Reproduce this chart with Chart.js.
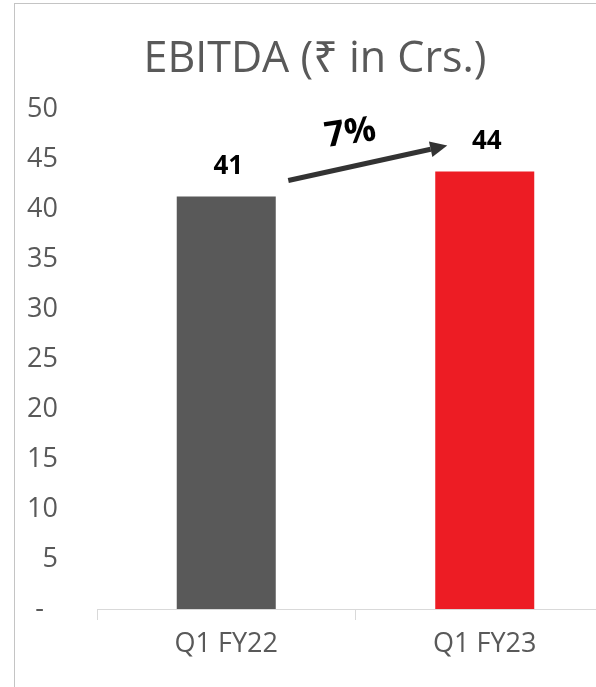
<!DOCTYPE html>
<html>
<head>
<meta charset="utf-8">
<script src="https://cdn.jsdelivr.net/npm/chart.js@4.4.0/dist/chart.umd.min.js"></script>
<style>
  html, body { margin: 0; padding: 0; background: #ffffff; overflow: hidden; width: 596px; height: 687px; }
  #frame { position: absolute; left: 14px; top: 3px; width: 800px; height: 800px; border: 1.5px solid #c4c4c4; box-sizing: border-box; }
  #wrap { position: absolute; left: 0; top: 0; width: 640px; height: 687px; }
</style>
</head>
<body>
<div id="frame"></div>
<div id="wrap"><canvas id="c" width="640" height="687"></canvas></div>
<script>
const categories = ['Q1 FY22', 'Q1 FY23'];
const ebitdaValues = [41.3, 43.8];
const valueLabels = ['41', '44'];
const barColors = ['#595959', '#ED1C24'];
const growthLabel = '7%';
const titleText = 'EBITDA (₹ in Crs.)';

const FONT = "'Open Sans', 'Noto Sans', 'DejaVu Sans', sans-serif";
const TEXT = '#595959';

// arrow annotation, in data coordinates (category index, value)
const arrowSpec = { from: [0.24, 42.9], to: [0.855, 46.4], label: [0.48, 47.6] };

const barLabelPlugin = {
  id: 'barLabels',
  afterDatasetsDraw(chart) {
    const ctx = chart.ctx;
    const meta = chart.getDatasetMeta(0);
    ctx.save();
    ctx.fillStyle = '#000000';
    ctx.font = "bold 26px " + FONT;
    ctx.textAlign = 'center';
    ctx.textBaseline = 'middle';
    meta.data.forEach((bar, i) => {
      ctx.fillText(valueLabels[i], bar.x + 2, bar.y - 30);
    });
    ctx.restore();
  }
};

const arrowPlugin = {
  id: 'growthArrow',
  afterDatasetsDraw(chart) {
    const xs = chart.scales.x, ys = chart.scales.y;
    const px = (v) => {
      const a = xs.getPixelForValue(0), b = xs.getPixelForValue(1);
      return a + (b - a) * v;
    };
    const x1 = px(arrowSpec.from[0]), y1 = ys.getPixelForValue(arrowSpec.from[1]);
    const x2 = px(arrowSpec.to[0]), y2 = ys.getPixelForValue(arrowSpec.to[1]);
    const ctx = chart.ctx;
    const ang = Math.atan2(y2 - y1, x2 - x1);
    const headLen = 17, headW = 8;
    const bx = x2 - headLen * Math.cos(ang), by = y2 - headLen * Math.sin(ang);
    ctx.save();
    ctx.strokeStyle = '#333333';
    ctx.fillStyle = '#333333';
    ctx.lineWidth = 5;
    ctx.beginPath();
    ctx.moveTo(x1, y1);
    ctx.lineTo(bx, by);
    ctx.stroke();
    ctx.beginPath();
    ctx.moveTo(x2, y2);
    ctx.lineTo(bx + headW * Math.sin(ang), by - headW * Math.cos(ang));
    ctx.lineTo(bx - headW * Math.sin(ang), by + headW * Math.cos(ang));
    ctx.closePath();
    ctx.fill();
    // growth label
    const lx = px(arrowSpec.label[0]), ly = ys.getPixelForValue(arrowSpec.label[1]);
    ctx.translate(lx, ly);
    ctx.rotate(-8 * Math.PI / 180);
    ctx.fillStyle = '#000000';
    ctx.font = "bold 35px " + FONT;
    ctx.textAlign = 'center';
    ctx.textBaseline = 'middle';
    ctx.fillText(growthLabel, 0, 0);
    ctx.restore();
  }
};

new Chart(document.getElementById('c'), {
  type: 'bar',
  data: {
    labels: categories,
    datasets: [{
      data: ebitdaValues,
      backgroundColor: barColors,
      borderWidth: 0,
      barPercentage: 1,
      categoryPercentage: 0.383
    }]
  },
  options: {
    responsive: false,
    animation: false,
    events: [],
    layout: { padding: { left: 16, right: 26, top: 0, bottom: 0 } },
    plugins: {
      legend: { display: false },
      tooltip: { enabled: false },
      title: {
        display: true,
        text: titleText,
        color: TEXT,
        font: { family: FONT, size: 43, weight: 'normal', lineHeight: 1.2 },
        padding: { top: 34, bottom: 24 }
      }
    },
    scales: {
      x: {
        grid: { offset: true, drawOnChartArea: false, drawTicks: true, tickLength: 11, color: '#d9d9d9', lineWidth: 1 },
        border: { display: true, color: '#d9d9d9', width: 1 },
        ticks: { color: TEXT, font: { family: FONT, size: 27 }, padding: 8 },
        afterFit(scale) { scale.height = 78; }
      },
      y: {
        min: 0, max: 50,
        grid: { display: false, drawTicks: false },
        border: { display: false },
        ticks: {
          stepSize: 5,
          color: TEXT,
          font: { family: FONT, size: 27 },
          padding: 39,
          callback: (v) => v === 0 ? '-  ' : String(v)
        },
        afterFit(scale) { scale.width = 81; }
      }
    }
  },
  plugins: [barLabelPlugin, arrowPlugin]
});
</script>
</body>
</html>
